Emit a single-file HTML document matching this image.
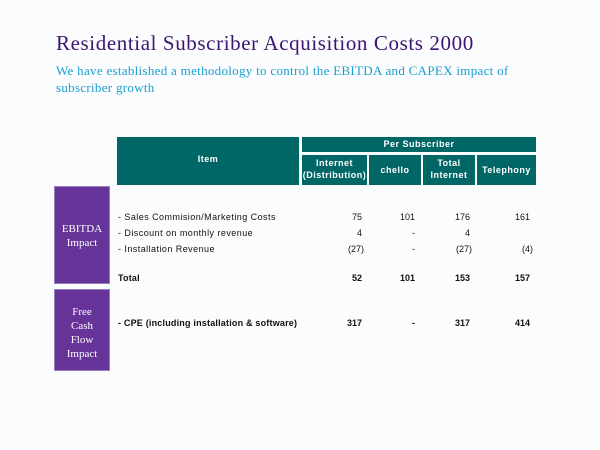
<!DOCTYPE html>
<html><head><meta charset="utf-8"><style>
body{margin:0;width:600px;height:450px;background:#fbfcfd;position:relative;overflow:hidden;font-family:"Liberation Sans",Arial,sans-serif}
div{position:absolute}
.h{background:#006666;color:#fff;font-size:9px;font-weight:bold;text-align:center;letter-spacing:0.5px;line-height:12px}
.p{background:#663399;color:#fff;font-family:"Liberation Serif",serif;font-size:11px;text-align:center;line-height:14px;border:1px solid #9a7fc0;box-sizing:border-box}
.t{font-size:9px;color:#111;letter-spacing:0.45px;white-space:nowrap}
.t.b{letter-spacing:0.2px}
.n{font-size:9px;color:#111;text-align:right;width:50px}
.b{font-weight:bold}
</style></head><body>
<div style="left:56px;top:31px;font-family:'Liberation Serif',serif;font-size:21px;color:#3d1470;letter-spacing:0.6px;white-space:nowrap">Residential Subscriber Acquisition Costs 2000</div>
<div style="left:56px;top:62px;font-family:'Liberation Serif',serif;font-size:13px;color:#1a9fd0;line-height:17px;letter-spacing:0.3px;width:470px">We have established a methodology to control the EBITDA and CAPEX impact of subscriber growth</div>

<div class="h" style="left:117px;top:137px;width:182px;height:48px"><span style="position:relative;top:16px">Item</span></div>
<div class="h" style="left:302px;top:137px;width:234px;height:15px;line-height:15px">Per Subscriber</div>
<div class="h" style="left:302px;top:155px;width:65px;height:30px;padding-top:2px;box-sizing:border-box">Internet<br>(Distribution)</div>
<div class="h" style="left:369px;top:155px;width:52px;height:30px;line-height:30px">chello</div>
<div class="h" style="left:423px;top:155px;width:52px;height:30px;padding-top:2px;box-sizing:border-box">Total<br>Internet</div>
<div class="h" style="left:477px;top:155px;width:59px;height:30px;line-height:30px">Telephony</div>

<div class="p" style="left:54px;top:186px;width:56px;height:98px;padding-top:35px">EBITDA<br>Impact</div>
<div class="p" style="left:54px;top:289px;width:56px;height:82px;padding-top:15px">Free<br>Cash<br>Flow<br>Impact</div>

<div class="t" style="left:118px;top:212px">- Sales Commision/Marketing Costs</div>
<div class="t" style="left:118px;top:228px">- Discount on monthly revenue</div>
<div class="t" style="left:118px;top:244px">- Installation Revenue</div>
<div class="t b" style="left:118px;top:273px">Total</div>
<div class="t b" style="left:118px;top:318px">- CPE (including installation &amp; software)</div>

<div class="n" style="left:312px;top:212px">75</div><div class="n" style="left:365px;top:212px">101</div><div class="n" style="left:420px;top:212px">176</div><div class="n" style="left:480px;top:212px">161</div>
<div class="n" style="left:312px;top:228px">4</div><div class="n" style="left:365px;top:228px">-</div><div class="n" style="left:420px;top:228px">4</div>
<div class="n" style="left:314px;top:244px">(27)</div><div class="n" style="left:365px;top:244px">-</div><div class="n" style="left:422px;top:244px">(27)</div><div class="n" style="left:483px;top:244px">(4)</div>
<div class="n b" style="left:312px;top:273px">52</div><div class="n b" style="left:365px;top:273px">101</div><div class="n b" style="left:420px;top:273px">153</div><div class="n b" style="left:480px;top:273px">157</div>
<div class="n b" style="left:312px;top:318px">317</div><div class="n b" style="left:365px;top:318px">-</div><div class="n b" style="left:420px;top:318px">317</div><div class="n b" style="left:480px;top:318px">414</div>
</body></html>
